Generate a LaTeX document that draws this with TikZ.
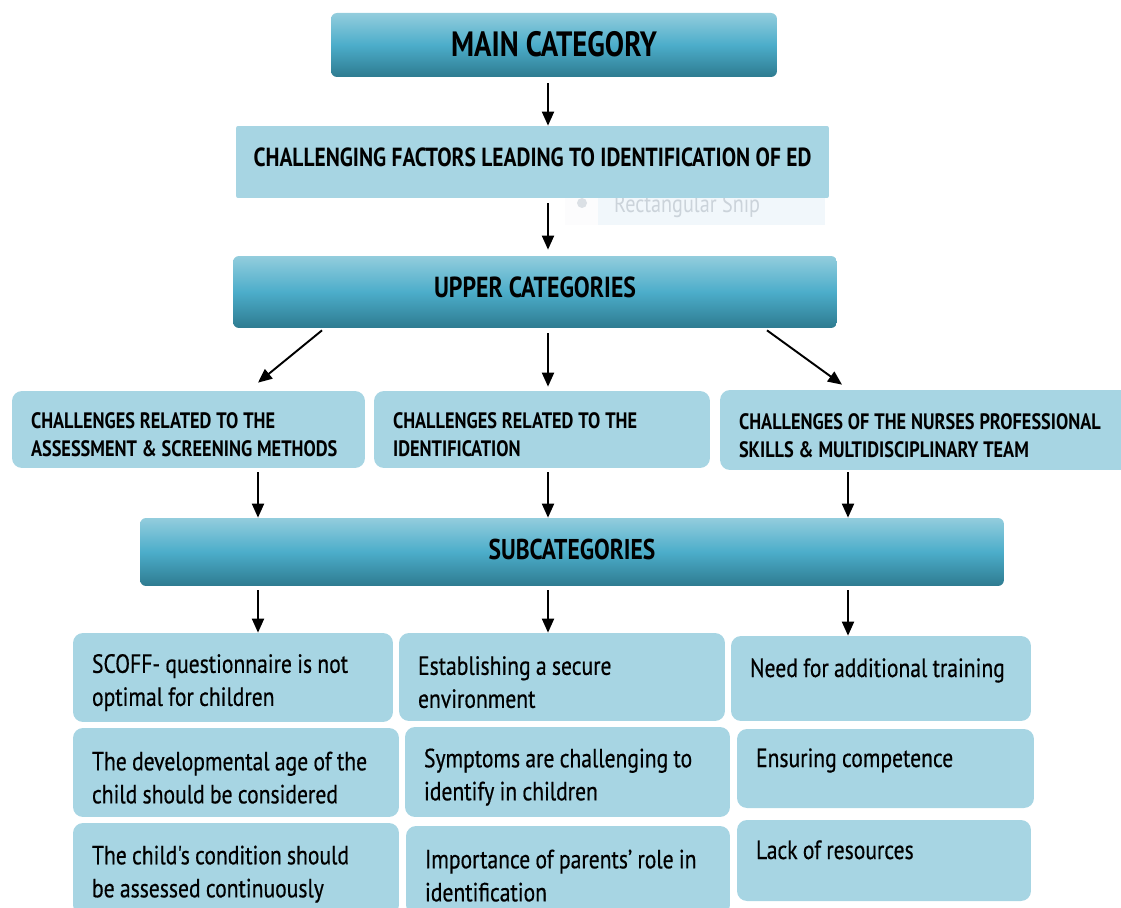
\documentclass[tikz,border=0pt]{standalone}
\usepackage{fontspec}
\usepackage{tikz}
\usetikzlibrary{arrows.meta,calc}
\usepackage{xcolor}
\newfontfamily\diafont[FakeStretch=0.82]{PT Sans}
\newfontfamily\leaffont[FakeStretch=0.82,FakeBold=0.5]{PT Sans}
\definecolor{boxblue}{HTML}{A7D5E3}
\definecolor{topblue}{HTML}{93CDDD}
\definecolor{midblue}{HTML}{4CADCA}
\definecolor{lowblue}{HTML}{2E7B90}
\definecolor{snipgray}{HTML}{CBD3DA}
\definecolor{snipbg}{HTML}{F1F7FB}

\begin{document}
\begin{tikzpicture}
  [x=0.02cm, y=-0.02cm,
   head/.style={rounded corners=0.12cm, top color=topblue, bottom color=lowblue,
                middle color=midblue, inner sep=0pt},
   factbox/.style={rounded corners=0.04cm, fill=boxblue, inner sep=0pt},
   cat/.style={rounded corners=0.2cm, fill=boxblue, align=left, inner xsep=0.38cm,
               font=\diafont\bfseries\fontsize{12.7}{15.9}\selectfont,
               execute at begin node={\spaceskip=0.22em\relax\rule{0pt}{0.54cm}}},
   leaf/.style={rounded corners=0.2cm, fill=boxblue, align=left, inner xsep=0.38cm,
                inner ysep=0.1cm, font=\leaffont\fontsize{15}{18.8}\selectfont,
                execute at begin node={\spaceskip=0.2em\relax\rule{0pt}{0.58cm}}},
   oneline/.style={text depth=0.64cm},
   arr/.style={draw, -{Triangle[length=0.28cm,width=0.24cm]}, line width=1.1pt},
  ]
  \useasboundingbox (0,0) rectangle (1121,908);

  \coordinate (cA) at (258,0);
  \coordinate (cB) at (548,0);
  \coordinate (cC) at (848,0);

  % snip ghost behind the factor box
  \node[fill=snipbg, minimum width=5.2cm, minimum height=0.9cm, inner sep=0pt] (snip) at (695,202.5) {};
  \node[fill=snipbg!85!gray!10, minimum width=0.66cm, minimum height=0.9cm, inner sep=0pt] (snipicon) at (581.5,202.5) {};
  \node[circle, fill=snipgray!70, minimum size=0.2cm, inner sep=0pt] (snipdot) at (582,203) {};
  \node[text=snipgray, font=\diafont\fontsize{14}{16}\selectfont, anchor=west] (sniptext) at (608,206) {Rectangular Snip};

  \node[head, minimum width=8.92cm, minimum height=1.28cm, text depth=0.04cm,
        font=\diafont\bfseries\fontsize{20}{22}\selectfont] (main) at (554,45) {MAIN CATEGORY};
  \node[factbox, minimum width=11.86cm, minimum height=1.44cm, text depth=0.2cm,
        font=\diafont\bfseries\fontsize{14.9}{17}\selectfont] (fact) at (532.5,162)
        {CHALLENGING FACTORS LEADING TO IDENTIFICATION OF ED};
  \node[head, minimum width=12.08cm, minimum height=1.44cm, text depth=0.2cm,
        font=\diafont\bfseries\fontsize{16.5}{18}\selectfont] (up) at (535,292) {UPPER CATEGORIES};

  \node[cat, minimum height=1.54cm, text width=6.3cm] (ch1) at (188.5,429.5)
        {CHALLENGES RELATED TO THE\\ASSESSMENT \& SCREENING METHODS};
  \node[cat, minimum height=1.54cm, text width=5.96cm] (ch2) at (542,429.5)
        {CHALLENGES RELATED TO THE\\IDENTIFICATION};
  \node[cat, minimum height=1.6cm, text width=7.44cm] (ch3) at (925,430)
        {CHALLENGES OF THE NURSES PROFESSIONAL\\SKILLS \& MULTIDISCIPLINARY TEAM};

  \node[head, minimum width=17.28cm, minimum height=1.36cm, text depth=0.12cm,
        font=\diafont\bfseries\fontsize{16.3}{18}\selectfont] (sub) at (572,552) {SUBCATEGORIES};

  \node[leaf, minimum height=1.78cm, text width=5.64cm] (b11) at (233,677.5)
        {SCOFF- questionnaire is not\\optimal for children};
  \node[leaf, minimum height=1.78cm, text width=5.76cm] (b12) at (236,772.5)
        {The developmental age of the\\child should be considered};
  \node[leaf, minimum height=1.84cm, text width=5.76cm] (b13) at (236,869)
        {The child's condition should\\be assessed continuously};

  \node[leaf, minimum height=1.76cm, text width=5.76cm] (b21) at (562,677)
        {Establishing a secure\\environment};
  \node[leaf, minimum height=1.8cm, text width=5.74cm] (b22) at (567.5,772)
        {Symptoms are challenging to\\identify in children};
  \node[leaf, minimum height=1.78cm, text width=5.72cm] (b23) at (568,870.5)
        {Importance of parents’ role in\\identification};

  \node[leaf, oneline, minimum height=1.7cm, text width=5.24cm] (b31) at (881,678.5)
        {Need for additional training};
  \node[leaf, oneline, minimum height=1.58cm, text width=5.18cm] (b32) at (885.5,768.5)
        {Ensuring competence};
  \node[leaf, oneline, minimum height=1.62cm, text width=5.12cm] (b33) at (884,860.5)
        {Lack of resources};

  \path (main.south -| cB) edge[arr, shorten <=0.12cm] (fact.north -| cB)
        (fact.south -| cB) edge[arr, shorten <=0.1cm, shorten >=0.12cm] (up.north -| cB)
        ($(up.south)+(-213,2)$) edge[arr] ($(ch1.north -| cA)+(0,-8)$)
        (up.south -| cB) edge[arr, shorten <=0.1cm, shorten >=0.08cm] (ch2.north -| cB)
        ($(up.south)+(232,2)$) edge[arr] ($(ch3.north -| cC)+(-6,-5)$)
        (ch1.south -| cA) edge[arr, shorten <=0.08cm] (sub.north -| cA)
        (ch2.south -| cB) edge[arr, shorten <=0.08cm] (sub.north -| cB)
        (ch3.south -| cC) edge[arr, shorten <=0.04cm] (sub.north -| cC)
        (sub.south -| cA) edge[arr, shorten <=0.08cm] (b11.north -| cA)
        (sub.south -| cB) edge[arr, shorten <=0.08cm] (b21.north -| cB)
        (sub.south -| cC) edge[arr, shorten <=0.08cm] (b31.north -| cC);
\end{tikzpicture}
\end{document}
